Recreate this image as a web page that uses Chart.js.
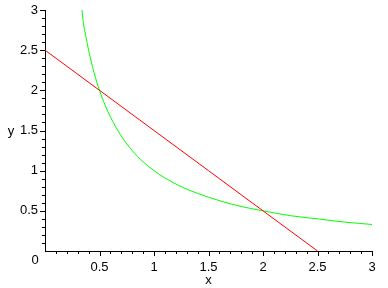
<!DOCTYPE html>
<html><head><meta charset="utf-8">
<script src="https://cdn.jsdelivr.net/npm/chart.js@4/dist/chart.umd.min.js"></script>
<style>html,body{margin:0;padding:0;background:#fff}#w{width:388px;height:288px}</style>
</head><body><div id="w"><canvas id="c" width="388" height="288"></canvas></div>
<script>
// Data
const greenX = [0.34, 0.35, 0.375, 0.4, 0.45, 0.5, 0.55, 0.6, 0.7, 0.8, 0.9, 1, 1.1, 1.25, 1.5, 1.75, 2, 2.25, 2.5, 2.75, 3];
const greenY = [3.0, 2.86, 2.67, 2.5, 2.22, 2.0, 1.82, 1.67, 1.43, 1.25, 1.11, 1.0, 0.91, 0.8, 0.67, 0.57, 0.5, 0.44, 0.4, 0.36, 0.33];
const redX = [0, 0.5, 1, 1.5, 2, 2.5];
const redY = [2.5, 2.0, 1.5, 1.0, 0.5, 0];
const xTickLabels = ['', '0.5', '1', '1.5', '2', '2.5', '3'];
const yTickLabels = ['', '0.5', '1', '1.5', '2', '2.5', '3'];
const xTitle = 'x';
const yTitle = 'y';
const zeroLabel = '0';

const FONT = {family: '"Liberation Sans", Arial, sans-serif', size: 13};

const pts = (xs, ys) => xs.map((x, i) => ({x, y: ys[i]}));

const tickPlugin = {
  id: 'mapleTicks',
  afterDraw(chart) {
    const ctx = chart.ctx, xs = chart.scales.x, ys = chart.scales.y;
    const x0 = xs.getPixelForValue(0), y0 = ys.getPixelForValue(0);
    ctx.save();
    ctx.strokeStyle = '#000';
    ctx.lineWidth = 1;
    ctx.beginPath();
    for (let i = 1; i <= 30; i++) {
      const px = Math.round(xs.getPixelForValue(i / 10)) + 0.5;
      const len = (i % 5 === 0) ? 5 : 3;
      ctx.moveTo(px, y0); ctx.lineTo(px, y0 + len);
      const py = Math.round(ys.getPixelForValue(i / 10)) + 0.5;
      ctx.moveTo(x0, py); ctx.lineTo(x0 - len, py);
    }
    ctx.stroke();
    ctx.fillStyle = '#000';
    ctx.font = FONT.size + 'px ' + FONT.family;
    ctx.textAlign = 'center';
    ctx.textBaseline = 'middle';
    ctx.fillText(zeroLabel, x0 - 10, y0 + 9);
    ctx.fillText(yTitle, 11, ys.getPixelForValue(1.5) + 1);
    ctx.restore();
  }
};

new Chart(document.getElementById('c'), {
  type: 'scatter',
  data: {
    datasets: [
      {data: pts(redX, redY), showLine: true, borderColor: '#ff0000', borderWidth: 1, pointRadius: 0, tension: 0},
      {data: pts(greenX, greenY), showLine: true, borderColor: '#00ff00', borderWidth: 1, pointRadius: 0, cubicInterpolationMode: 'monotone'}
    ]
  },
  options: {
    responsive: false,
    animation: false,
    events: [],
    layout: {padding: {top: 10, right: 16, left: 0, bottom: 0}},
    plugins: {legend: {display: false}, tooltip: {enabled: false}},
    scales: {
      x: {
        type: 'linear', min: 0, max: 3,
        afterBuildTicks: s => { s.ticks = xTickLabels.map((l, i) => ({value: i * 0.5})); },
        ticks: {color: '#000', font: FONT, padding: 4, maxRotation: 0, autoSkip: false,
          callback: (v, i) => xTickLabels[i]},
        grid: {display: false, drawTicks: true, tickLength: 5},
        border: {display: true, color: '#000', width: 1},
        title: {display: true, text: xTitle, color: '#000', font: FONT, padding: {top: -4, bottom: 0}},
        afterFit: s => { s.height = 37; }
      },
      y: {
        type: 'linear', min: 0, max: 3,
        afterBuildTicks: s => { s.ticks = yTickLabels.map((l, i) => ({value: i * 0.5})); },
        ticks: {color: '#000', font: FONT, padding: 2, autoSkip: false,
          callback: (v, i) => yTickLabels[i]},
        grid: {display: false, drawTicks: true, tickLength: 5},
        border: {display: true, color: '#000', width: 1},
        afterFit: s => { s.width = 45; }
      }
    }
  },
  plugins: [tickPlugin]
});
</script>
</body></html>
